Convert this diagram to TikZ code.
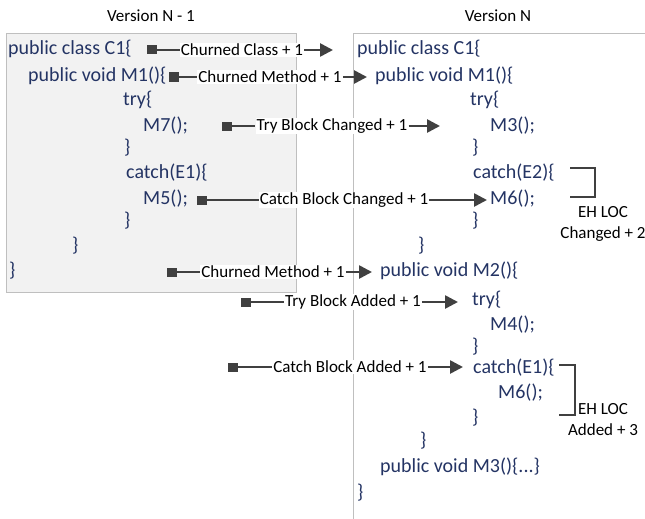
\documentclass[tikz,border=0pt]{standalone}
\usepackage{fontspec}
\setmainfont{Carlito}
\usetikzlibrary{arrows.meta}
\definecolor{codeblue}{RGB}{36,52,100}
\definecolor{darkline}{RGB}{64,64,64}
\definecolor{boxgray}{RGB}{242,242,242}
\definecolor{bordergray}{RGB}{191,191,191}
\begin{document}
\begin{tikzpicture}[x=1pt,y=-1pt,
  code/.style={anchor=west,inner sep=0pt,text=codeblue,font=\fontsize{20}{22}\selectfont},
  title/.style={inner sep=0pt,font=\fontsize{17}{19}\selectfont},
  lbl/.style={fill=white,inner sep=1pt,font=\fontsize{17}{19}\selectfont},
  sqr/.style={fill=darkline,minimum width=10pt,minimum height=9pt,inner sep=0pt},
  conn/.style={draw=darkline,line width=2.6pt},
  arr/.style={conn,-{Triangle[length=13pt,width=13pt]}},
  brk/.style={draw=darkline,line width=2pt},
  note/.style={align=center,inner sep=0pt,font=\fontsize{17}{21}\selectfont}
]
\useasboundingbox (0,0) rectangle (645,519);
% boxes
\draw[bordergray,fill=boxgray,line width=1pt] (6,34) rectangle (296,292);
\draw[bordergray,line width=1pt] (645,34) -- (353,34) -- (353,519);
% titles
\node[title] (t1) at (151,16) {Version N - 1};
\node[title] (t2) at (498,16) {Version N};
% left code
\node[code] (a1) at (8,49) {public class C1\{};
\node[code] (a2) at (28,76) {public void M1()\{};
\node[code] (a3) at (123,100) {try\{};
\node[code] (a4) at (143,126) {M7();};
\node[code] (a5) at (124,148) {\}};
\node[code] (a6) at (126,173) {catch(E1)\{};
\node[code] (a7) at (143,199) {M5();};
\node[code] (a8) at (124,221) {\}};
\node[code] (a9) at (72,246) {\}};
\node[code] (a10) at (9,271) {\}};
% right code
\node[code] (b1) at (357,49) {public class C1\{};
\node[code] (b2) at (375,76) {public void M1()\{};
\node[code] (b3) at (470,100) {try\{};
\node[code] (b4) at (490,126) {M3();};
\node[code] (b5) at (472,148) {\}};
\node[code] (b6) at (473,173) {catch(E2)\{};
\node[code] (b7) at (490,199) {M6();};
\node[code] (b8) at (472,221) {\}};
\node[code] (b9) at (418,246) {\}};
\node[code] (b10) at (380,271) {public void M2()\{};
\node[code] (b11) at (472,300) {try\{};
\node[code] (b12) at (490,325) {M4();};
\node[code] (b13) at (472,347) {\}};
\node[code] (b14) at (473,368) {catch(E1)\{};
\node[code] (b15) at (498,393) {M6();};
\node[code] (b16) at (472,418) {\}};
\node[code] (b17) at (420,441) {\}};
\node[code] (b18) at (380,467) {public void M3()\{...\}};
\node[code] (b19) at (357,493) {\}};
% connectors
\node[sqr] (s1) at (152,50) {};
\node[lbl] (l1) at (242,50) {Churned Class + 1};
\coordinate (e1) at (333,50);
\node[sqr] (s2) at (174,77) {};
\node[lbl] (l2) at (270,77) {Churned Method + 1};
\coordinate (e2) at (367,77);
\node[sqr] (s3) at (227,126) {};
\node[lbl] (l3) at (332,126) {Try Block Changed + 1};
\coordinate (e3) at (440,126);
\node[sqr] (s4) at (202,200) {};
\node[lbl] (l4) at (344,200) {Catch Block Changed + 1};
\coordinate (e4) at (487,200);
\node[sqr] (s5) at (172,272) {};
\node[lbl] (l5) at (273,272) {Churned Method + 1};
\coordinate (e5) at (372,272);
\node[sqr] (s6) at (246,302) {};
\node[lbl] (l6) at (353,302) {Try Block Added + 1};
\coordinate (e6) at (458,302);
\node[sqr] (s7) at (233,367) {};
\node[lbl] (l7) at (350,367) {Catch Block Added + 1};
\coordinate (e7) at (463,367);
\foreach \i in {1,...,7}{
  \draw[conn] (s\i.center) -- (l\i.west);
  \draw[arr] (l\i.east) -- (e\i);
}
% brackets
\coordinate (k1a) at (570,168);
\coordinate (k1b) at (595,168);
\coordinate (k1c) at (595,197);
\coordinate (k1d) at (570,197);
\draw[brk] (k1a) -- (k1b) -- (k1c) -- (k1d);
\node[note] (n1) at (603,224) {EH LOC\\Changed + 2};
\coordinate (k2a) at (559,365);
\coordinate (k2b) at (575,365);
\coordinate (k2c) at (575,415);
\coordinate (k2d) at (559,415);
\draw[brk] (k2a) -- (k2b) -- (k2c) -- (k2d);
\node[note] (n2) at (603,420) {EH LOC\\Added + 3};
\end{tikzpicture}
\end{document}
